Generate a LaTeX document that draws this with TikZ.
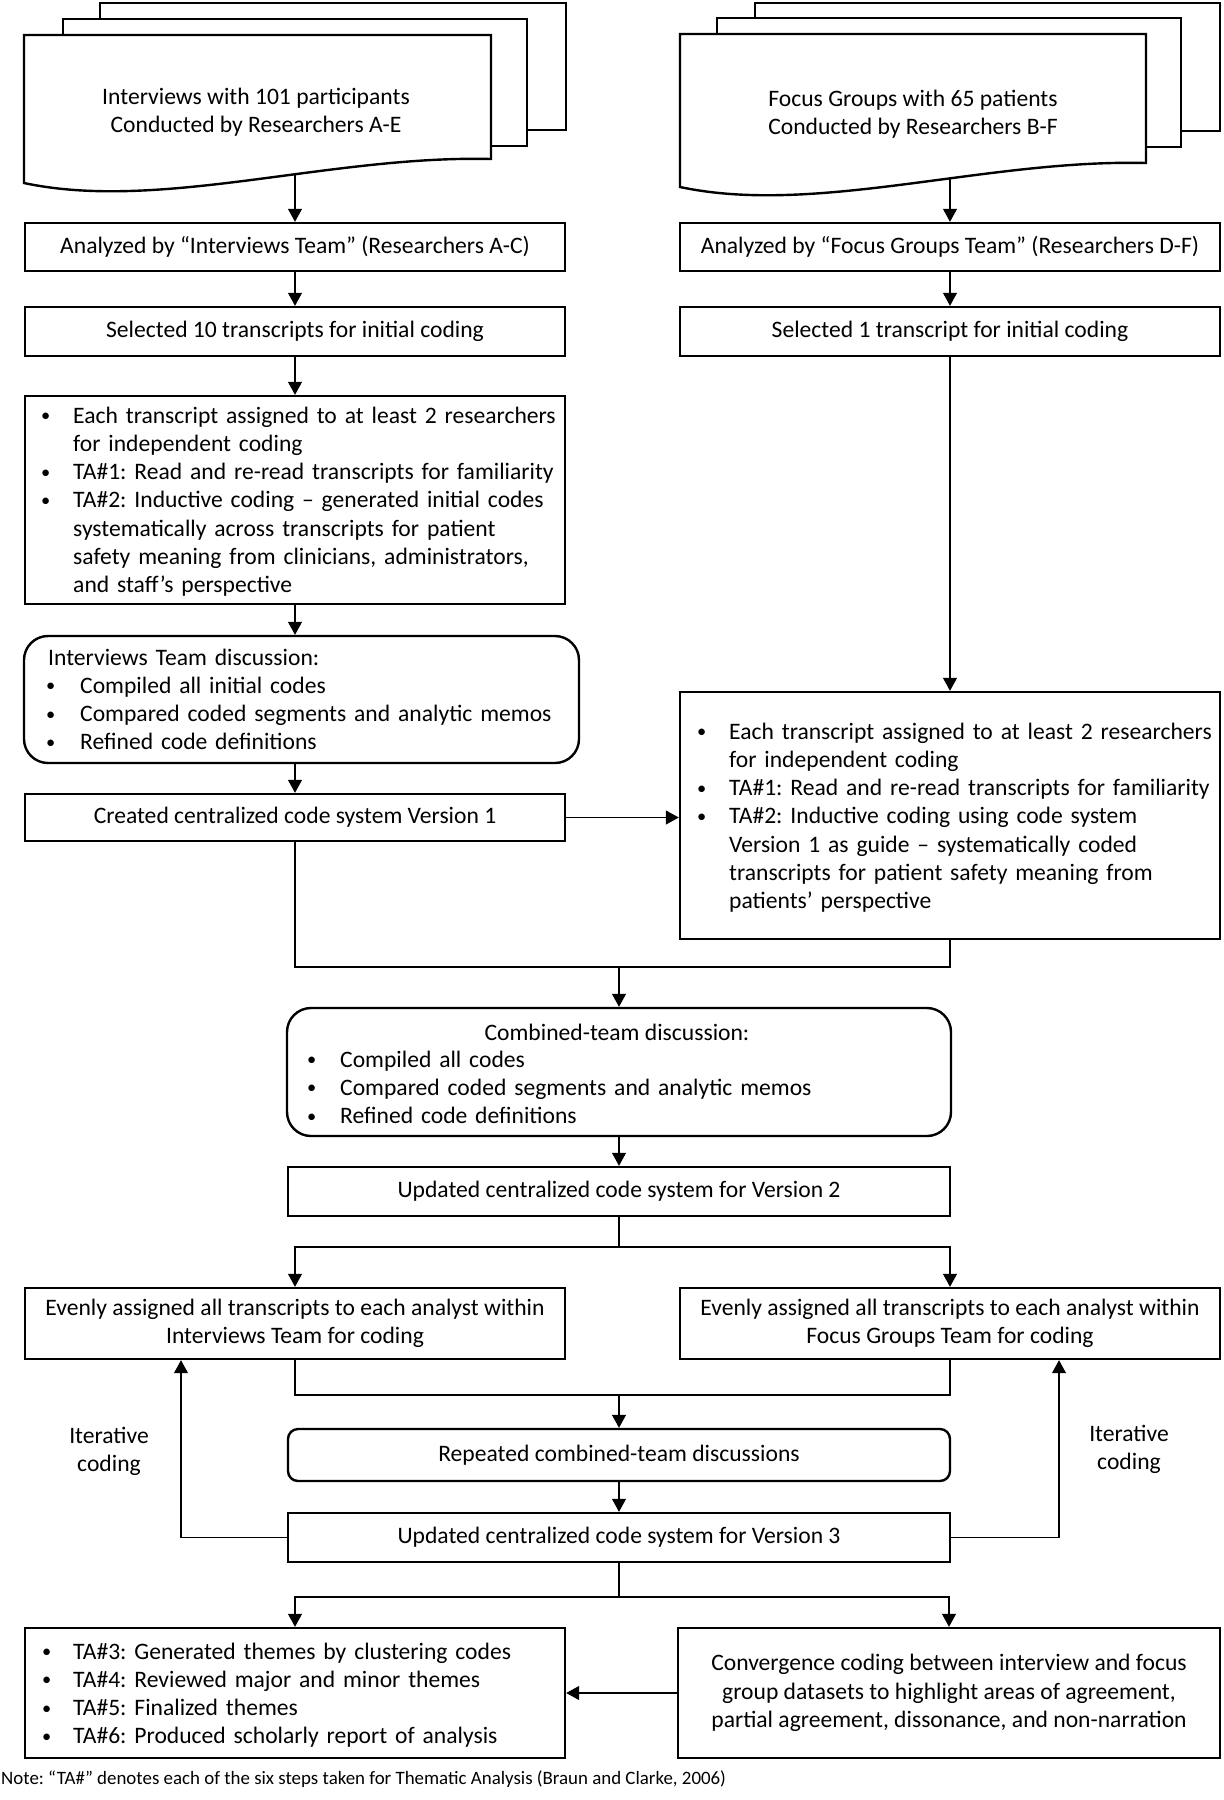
\documentclass[tikz,border=0pt]{standalone}
\usepackage{fontspec}
\usepackage{graphicx}
\setmainfont{Carlito}
\usetikzlibrary{arrows.meta}
\newcommand\mainf{\fontsize{23.6}{28.3}\selectfont\frenchspacing}
\newcommand\notef{\fontsize{18.9}{22}\selectfont\frenchspacing}
\newcommand\bl[1][23pt]{\leavevmode\llap{\raisebox{0.06em}{\scalebox{0.78}{\textbullet}}\hspace{#1}}}
\begin{document}
\begin{tikzpicture}[x=1pt,y=-1pt,
  bx/.style={draw, line width=2.4pt, inner sep=0pt, align=center, font=\mainf},
  rbx/.style={bx, rounded corners=24pt},
  con/.style={line width=1.1pt},
  arr/.style={con, -{Triangle[length=13pt,width=14pt]}},
  lst/.style={inner sep=0pt, align=left, font=\mainf, text width=#1, anchor=base west},
  doc/.style={draw, line width=2.4pt, fill=white, line join=miter},
  plain/.style={inner sep=0pt, align=center, font=\mainf}]
\useasboundingbox (0,0) rectangle (1224,1800);
% document stacks
\draw[doc] (100,3) rectangle (566,130);
\draw[doc] (63,19) rectangle (527,146);
\draw[doc] (24,35) -- (491,35) -- (491,159) .. controls (330,155) and (160,212) .. (24,183) -- cycle;
\node[plain] (docL) at (256,112) {Interviews with 101 participants\\Conducted by Researchers A-E};
\coordinate (docLb) at (295,174);
\draw[doc] (755,3) rectangle (1220,131);
\draw[doc] (717,18) rectangle (1181,147);
\draw[doc] (680,34) -- (1146,34) -- (1146,163) .. controls (986,159) and (816,216) .. (680,187) -- cycle;
\node[plain] (docR) at (913,114) {Focus Groups with 65 patients\\Conducted by Researchers B-F};
\coordinate (docRb) at (950,178);
% left column
\node[bx, minimum width=540pt, minimum height=48pt] (L1) at (295,247) {Analyzed by “Interviews Team” (Researchers A-C)};
\node[bx, minimum width=540pt, minimum height=49pt] (L2) at (295,331.5) {Selected 10 transcripts for initial coding};
\node[bx, minimum width=540pt, minimum height=208pt] (L3) at (295,500) {};
\node[lst=520pt] (L3t) at (73,423) {\bl Each transcript assigned to at least 2 researchers\\
for independent coding\\
\bl TA\#1: Read and re-read transcripts for familiarity\\
\bl TA\#2: Inductive coding – generated initial codes\\
systematically across transcripts for patient\\
safety meaning from clinicians, administrators,\\
and staff’s perspective};
\node[rbx, minimum width=555pt, minimum height=127pt] (L4) at (301.5,699.5) {};
\node[lst=520pt] (L4h) at (48,665) {Interviews Team discussion:};
\node[lst=480pt] (L4t) at (80,693.3) {\bl[25pt]Compiled all initial codes\\
\bl[25pt]Compared coded segments and analytic memos\\
\bl[25pt]Refined code definitions};
\node[bx, minimum width=540pt, minimum height=47pt] (L5) at (295,817.5) {Created centralized code system Version 1};
% right column
\node[bx, minimum width=540pt, minimum height=48pt] (R1) at (950,247) {Analyzed by “Focus Groups Team” (Researchers D-F)};
\node[bx, minimum width=540pt, minimum height=49pt] (R2) at (950,331.5) {Selected 1 transcript for initial coding};
\node[bx, minimum width=540pt, minimum height=247pt] (R3) at (950,815.5) {};
\node[lst=500pt] (R3t) at (729,739) {\bl Each transcript assigned to at least 2 researchers\\
for independent coding\\
\bl TA\#1: Read and re-read transcripts for familiarity\\
\bl TA\#2: Inductive coding using code system\\
Version 1 as guide – systematically coded\\
transcripts for patient safety meaning from\\
patients’ perspective};
% center
\node[rbx, minimum width=664pt, minimum height=128pt] (C1) at (619,1072) {};
\node[plain] (C1h) at (617,1032) {Combined-team discussion:};
\node[lst=560pt] (C1t) at (340,1067) {\bl[24pt]Compiled all codes\\
\bl[24pt]Compared coded segments and analytic memos\\
\bl[24pt]Refined code definitions};
\node[bx, minimum width=662pt, minimum height=49pt] (C2) at (619,1191.5) {Updated centralized code system for Version 2};
\node[bx, minimum width=540pt, minimum height=71pt] (L6) at (295,1323.5) {Evenly assigned all transcripts to each analyst within\\Interviews Team for coding};
\node[bx, minimum width=540pt, minimum height=71pt] (R4) at (950,1323.5) {Evenly assigned all transcripts to each analyst within\\Focus Groups Team for coding};
\node[bx, rounded corners=10pt, minimum width=662pt, minimum height=52pt] (C3) at (619,1455) {Repeated combined-team discussions};
\node[bx, minimum width=662pt, minimum height=49pt] (C4) at (619,1537.5) {Updated centralized code system for Version 3};
\node[plain] (itL) at (109,1451) {Iterative\\coding};
\node[plain] (itR) at (1129,1449) {Iterative\\coding};
\node[bx, minimum width=540pt, minimum height=130pt] (L7) at (295,1693) {};
\node[lst=500pt] (L7t) at (73,1659) {\bl[22pt]TA\#3: Generated themes by clustering codes\\
\bl[22pt]TA\#4: Reviewed major and minor themes\\
\bl[22pt]TA\#5: Finalized themes\\
\bl[22pt]TA\#6: Produced scholarly report of analysis};
\node[bx, minimum width=542pt, minimum height=130pt] (R5) at (949,1693) {Convergence coding between interview and focus\\group datasets to highlight areas of agreement,\\partial agreement, dissonance, and non-narration};
\node[inner sep=0pt, font=\notef, anchor=west] (note) at (1,1779) {Note: “TA\#” denotes each of the six steps taken for Thematic Analysis (Braun and Clarke, 2006)};
% connectors
\draw[arr] (docLb) -- (L1.north);
\draw[arr] (L1.south) -- (L2.north);
\draw[arr] (L2.south) -- (L3.north);
\draw[arr] (L3.south) -- (L3.south |- L4.north);
\draw[arr] (L5.north |- L4.south) -- (L5.north);
\draw[arr] (docRb) -- (R1.north);
\draw[arr] (R1.south) -- (R2.north);
\draw[arr] (R2.south) -- (R3.north);
\draw[arr] (L5.east) -- (L5.east -| R3.west);
\coordinate (m1) at (619,967);
\draw[con] (L5.south) -- (L5.south |- m1) -- (R3.south |- m1) -- (R3.south);
\draw[arr] (m1) -- (C1.north);
\draw[arr] (C1.south) -- (C2.north);
\coordinate (m2) at (619,1247);
\draw[con] (C2.south) -- (m2);
\draw[arr] (m2) -| (L6.north);
\draw[arr] (m2) -| (R4.north);
\coordinate (m3) at (619,1395);
\draw[con] (L6.south) |- (m3) -| (R4.south);
\draw[arr] (m3) -- (C3.north);
\draw[arr] (C3.south) -- (C4.north);
\coordinate (fbL) at (181,1537.5);
\coordinate (fbR) at (1059,1537.5);
\draw[arr] (C4.west) -- (fbL) -- (fbL |- L6.south);
\draw[arr] (C4.east) -- (fbR) -- (fbR |- R4.south);
\coordinate (m4) at (619,1597);
\draw[con] (C4.south) -- (m4);
\draw[arr] (m4) -| (L7.north);
\draw[arr] (m4) -| (R5.north);
\draw[arr] (R5.west) -- (R5.west -| L7.east);
\end{tikzpicture}
\end{document}
